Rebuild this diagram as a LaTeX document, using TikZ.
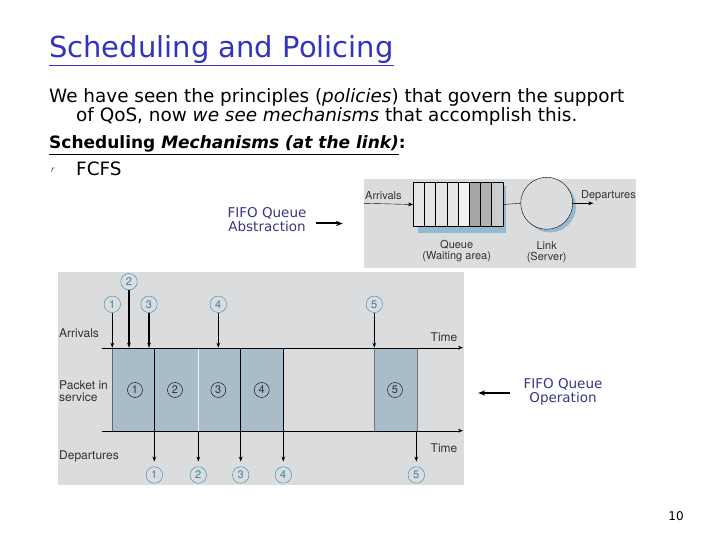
\documentclass[tikz,border=0pt]{standalone}
\usepackage{fontspec}
\setmainfont{DejaVu Sans}
\newfontfamily\figfont{TeX Gyre Heros}
\usetikzlibrary{arrows.meta, positioning, calc}
\definecolor{titleblue}{RGB}{51,51,190}
\definecolor{notecol}{RGB}{55,55,130}
\definecolor{panelgray}{RGB}{218,220,222}
\definecolor{slotblue}{RGB}{168,188,201}
\definecolor{tagblue}{RGB}{45,135,175}
\definecolor{shadowblue}{RGB}{150,185,210}
\newcommand{\fsz}[1]{\fontsize{#1}{#1}\selectfont}

\begin{document}
\begin{tikzpicture}[x=1pt, y=-1pt,
    tag/.style={circle, draw=tagblue, text=tagblue, inner sep=0pt, minimum size=16.5pt, font=\figfont\fsz{11}},
    slot/.style={circle, draw=black, text=black!80, inner sep=0pt, minimum size=15pt, font=\figfont\fsz{11}},
    figlabel/.style={font=\figfont\fsz{11}, text=black!80},
    note/.style={align=center, font=\fsz{13.5}, text=notecol}]
    \useasboundingbox (0,0) rectangle (720,540);

    % --- Slide text ---
    \node[anchor=base west, inner sep=0pt, text=titleblue, font=\fsz{29}] (title) at (49,58) {\underline{Scheduling and Policing}};
    \node[anchor=base west, inner sep=0pt, font=\fsz{18.4}] (line1) at (49,103) {We have seen the principles (\textit{policies}) that govern the support};
    \node[anchor=base west, inner sep=0pt, font=\fsz{18.4}] (line2) at (76,122) {of QoS, now \textit{we see mechanisms} that accomplish this.};
    \node[anchor=base west, inner sep=0pt, font=\bfseries\fsz{17}] (line3) at (49,149) {\underline{Scheduling \textit{Mechanisms (at the link)}}:};
    \node[anchor=base west, inner sep=0pt, text=notecol, font=\itshape\fsz{8}] (bullet) at (51,173) {r};
    \node[anchor=base west, inner sep=0pt, font=\fsz{18.4}] (fcfs) at (76,176) {FCFS};

    % --- Queue abstraction picture ---
    \node[fill=panelgray, minimum width=272pt, minimum height=89pt, inner sep=0pt] (abspanel) at (500,223.5) {};
    \fill[shadowblue] (418,226.7) rectangle (506,232.5);
    \fill[shadowblue] (502.7,186) rectangle (506,232.5);
    \fill[shadowblue] (550,206.5) circle (26);
    \foreach \i/\c in {0/10,1/10,2/10,3/10,4/5,5/35,6/30,7/20}
      \fill[black!\c] (413.3+11.17*\i,182.3) rectangle (413.3+11.17*\i+11.17,226.7);
    \node[draw, minimum width=89.4pt, minimum height=44.4pt, inner sep=0pt] (queue) at (458,204.5) {};
    \foreach \i in {1,...,7}
      \draw (413.3+11.17*\i,182.3) -- (413.3+11.17*\i,226.7);
    \node[circle, draw, fill=panelgray, minimum size=52pt, inner sep=0pt] (link) at (546.7,203.3) {};
    \coordinate (arrin) at (364,203.3);
    \coordinate (arrout) at (593.3,203.3);
    \draw[-{Stealth[length=5pt]}] (arrin) -- (queue.west);
    \draw (queue.east) -- (link.west);
    \draw[-{Stealth[length=5pt]}] (link.east) -- (arrout);
    \node[figlabel, anchor=base west, inner sep=1pt] at (364,200) {Arrivals};
    \node[figlabel, anchor=base east, inner sep=1pt] at (637,199) {Departures};
    \node[figlabel, align=center] at (456.7,251) {Queue\\(Waiting area)};
    \node[figlabel, align=center] at (546.7,252) {Link\\(Server)};

    \node[note] (absnote) at (267,219.5) {FIFO Queue\\Abstraction};
    \draw[line width=2pt, -{Stealth[length=7pt]}, shorten <=6pt, shorten >=21pt] ([yshift=-4pt]absnote.east) -- ([yshift=-4pt]abspanel.west |- absnote.east);

    % --- Queue operation picture ---
    \node[fill=panelgray, minimum width=406pt, minimum height=213pt, inner sep=0pt] (oppanel) at (261,378.5) {};
    \fill[slotblue] (112.3,347.7) rectangle (283.3,430.7);
    \fill[slotblue] (374.3,347.7) rectangle (416.7,430.7);
    \draw[black!60] (112.3,347.7) -- (112.3,430.7);
    \draw[white!80!slotblue, line width=1pt] (198.3,347.7) -- (198.3,430.7);
    \draw[black!55] (374.3,347.7) rectangle (416.7,430.7);

    % time axes
    \coordinate (top0) at (101.7,347.7);
    \coordinate (top1) at (463,347.7);
    \coordinate (bot0) at (101.7,430.7);
    \coordinate (bot1) at (463,430.7);
    \draw[-{Stealth[length=5pt]}] (top0) -- (top1);
    \draw[-{Stealth[length=5pt]}] (bot0) -- (bot1);

    \node[figlabel, anchor=west, inner sep=0pt, font=\figfont\fsz{12}] at (59,333) {Arrivals};
    \node[figlabel, anchor=west, align=left, inner sep=0pt, font=\figfont\fsz{12}] at (59,391) {Packet in\\service};
    \node[figlabel, anchor=west, inner sep=0pt, font=\figfont\fsz{12}] at (59,456) {Departures};
    \node[figlabel, inner sep=0pt, font=\figfont\fsz{12}] at (444,337) {Time};
    \node[figlabel, inner sep=0pt, font=\figfont\fsz{12}] at (444,448) {Time};

    % packets in service
    \foreach \n/\x in {1/135,2/175,3/218.3,4/261.7,5/395}
      \node[slot] (s\n) at (\x,390) {\n};

    % arrivals
    \foreach \n/\x/\y/\w in {1/112.3/304.3/0.8pt,2/129/281.7/1.4pt,3/149/304.3/1.2pt,4/218.3/304.3/1pt,5/374.3/304.3/1pt} {
      \node[tag] (a\n) at (\x,\y) {\n};
      \coordinate (at\n) at (\x,347.7);
      \draw[line width=\w, -{Stealth[length=5pt]}] (a\n) -- (at\n);
    }

    % departures
    \foreach \n/\x in {1/154.3,2/198.3,3/240.7,4/283.3,5/416.3}
      \node[tag] (d\n) at (\x,475) {\n};
    \foreach \n/\x in {1/154.3,3/240.7,4/283.3}
      \coordinate (dt\n) at (\x,347.7);
    \coordinate (dt2) at (198.3,430.7);
    \coordinate (dt5) at (416.3,430.7);
    \foreach \n/\w in {1/1.3pt,2/0.6pt,3/1.3pt,4/1.3pt,5/1pt}
      \draw[line width=\w, -{Stealth[length=5pt]}, shorten >=5pt] (dt\n) -- (d\n);

    \node[note] (opnote) at (563,392) {FIFO Queue\\Operation};
    \draw[line width=2pt, -{Stealth[length=7pt]}, shorten <=10pt, shorten >=14pt] ([yshift=-1pt]opnote.west) -- ([yshift=-1pt]oppanel.east |- opnote.west);

    % page number
    \node[font=\fsz{12}] (pagenum) at (676,516) {10};
\end{tikzpicture}
\end{document}
